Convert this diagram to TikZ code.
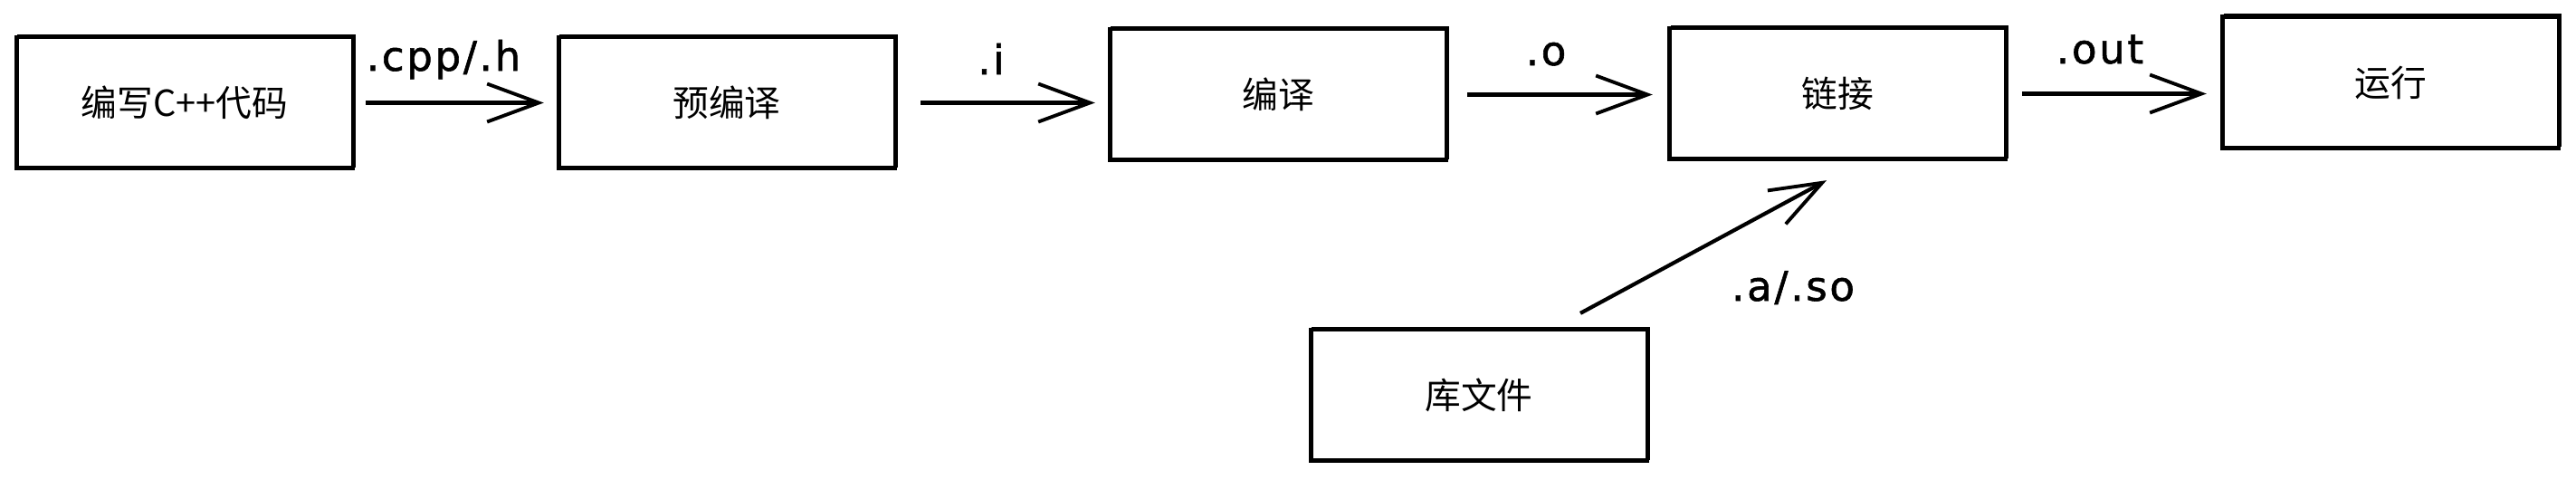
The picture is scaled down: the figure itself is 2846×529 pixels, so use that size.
\documentclass[tikz,border=0pt]{standalone}
\usepackage{fontspec}
\usetikzlibrary{arrows.meta,calc}
\newfontfamily\cjk{Noto Sans CJK SC}
\newfontfamily\lblfont[LetterSpace=6,FakeBold=1.3]{DejaVu Sans}
\begin{document}
\begin{tikzpicture}[x=0.01cm,y=-0.01cm,
  box/.style={draw, line width=1.2pt, minimum width=3.72cm, minimum height=1.45cm, inner sep=0pt,
    preaction={draw, line width=0.5pt, transform canvas={shift={(0.7pt,0.6pt)}}},
    font=\cjk\fontsize{11.3}{13}\selectfont},
  conn/.style={line width=1.2pt, -{Straight Barb[length=0.57cm,width=0.42cm,line width=1.1pt]}},
  lbl/.style={anchor=base, inner sep=0pt, font=\lblfont\fontsize{12.8}{15}\selectfont}]
\useasboundingbox (0,0) rectangle (2846,529);
\node[box] (b1) at (204,113.5) {编写C++代码};
\node[box] (b2) at (803,113.5) {预编译};
\node[box] (b3) at (1412,104.5) {编译};
\node[box] (b4) at (2030,103.5) {链接};
\node[box] (b5) at (2641,91) {运行};
\node[box] (lib) at (1634,436.5) {库文件};
\draw[conn, shorten <=0.12cm, shorten >=0.14cm] (b1.east) -- (b1.east -| b2.west);
\draw[conn, shorten <=0.26cm, shorten >=0.14cm] (b2.east) -- (b2.east -| b3.west);
\draw[conn, shorten <=0.21cm, shorten >=0.16cm] (b3.east) -- (b3.east -| b4.west);
\draw[conn, shorten <=0.16cm, shorten >=0.15cm] (b4.east) -- (b4.east -| b5.west);
\coordinate (ls) at ($(lib.north)+(112,-16)$);
\coordinate (le) at ($(b4.south)+(-12,21)$);
\draw[conn] (ls) -- (le);
\node[lbl] (l1) at (490,78) {.cpp/.h};
\node[lbl] (l2) at (1095,82) {.i};
\node[lbl] (l3) at (1708,72) {.o};
\node[lbl] (l4) at (2320,70) {.out};
\node[lbl] (l5) at (1981,332) {.a/.so};
\end{tikzpicture}
\end{document}
